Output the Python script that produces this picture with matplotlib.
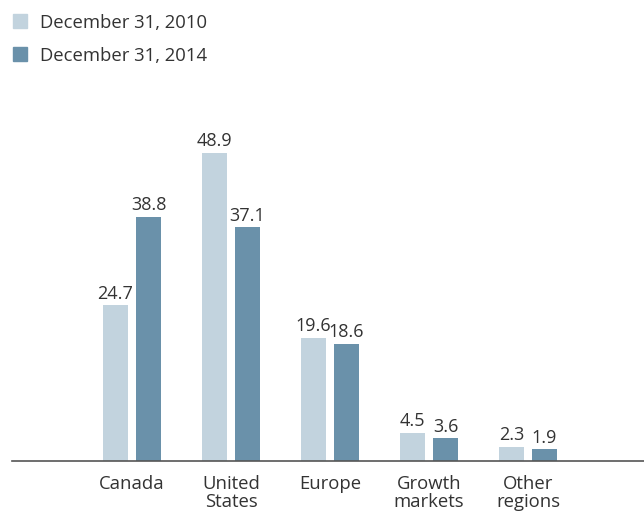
import matplotlib
matplotlib.use("Agg")
import matplotlib.pyplot as plt
from matplotlib.patches import Rectangle
import numpy as np

plt.rcParams['font.family'] = ['Open Sans', 'DejaVu Sans']

categories = ["Canada", "United\nStates", "Europe", "Growth\nmarkets", "Other\nregions"]
values_2010 = [24.7, 48.9, 19.6, 4.5, 2.3]
values_2014 = [38.8, 37.1, 18.6, 3.6, 1.9]
series_labels = ["December 31, 2010", "December 31, 2014"]

light = "#c2d3de"
dark = "#6a91aa"
text_color = "#333333"

fig = plt.figure(figsize=(6.44, 5.12), dpi=100)
ax = fig.add_axes([12 / 644, 51 / 512, 632 / 644, 361 / 512])

x = np.arange(len(categories))
w = 25 / 99
off = 16.5 / 99
b1 = ax.bar(x - off, values_2010, width=w, color=light)
b2 = ax.bar(x + off, values_2014, width=w, color=dark)

for bars, vals in ((b1, values_2010), (b2, values_2014)):
    for bar, v in zip(bars, vals):
        ax.text(bar.get_x() + bar.get_width() / 2, v + 0.4, f"{v:.1f}",
                ha="center", va="bottom", fontsize=13, color=text_color)

ax.set_xlim(-120 / 99, 512 / 99)
ax.set_ylim(0, 361 / 6.3)
for s in ("top", "right", "left"):
    ax.spines[s].set_visible(False)
ax.spines["bottom"].set_color("#555555")
ax.spines["bottom"].set_linewidth(1.2)
ax.set_yticks([])
ax.set_xticks(x)
ax.set_xticklabels(categories, fontsize=13.3, color=text_color, linespacing=1.02)
ax.tick_params(axis="x", length=0, pad=10)

# legend drawn in figure pixel coordinates
for i, (lab, col) in enumerate(zip(series_labels, (light, dark))):
    y_top = 14 + 33 * i
    fig.patches.append(Rectangle((13 / 644, 1 - (y_top + 14) / 512), 14 / 644, 14 / 512,
                                 transform=fig.transFigure, color=col))
    fig.text(40 / 644, 1 - (y_top + 9) / 512, lab, fontsize=13.3, color=text_color,
             va="center", ha="left")

fig.savefig("out.png", dpi=100)
